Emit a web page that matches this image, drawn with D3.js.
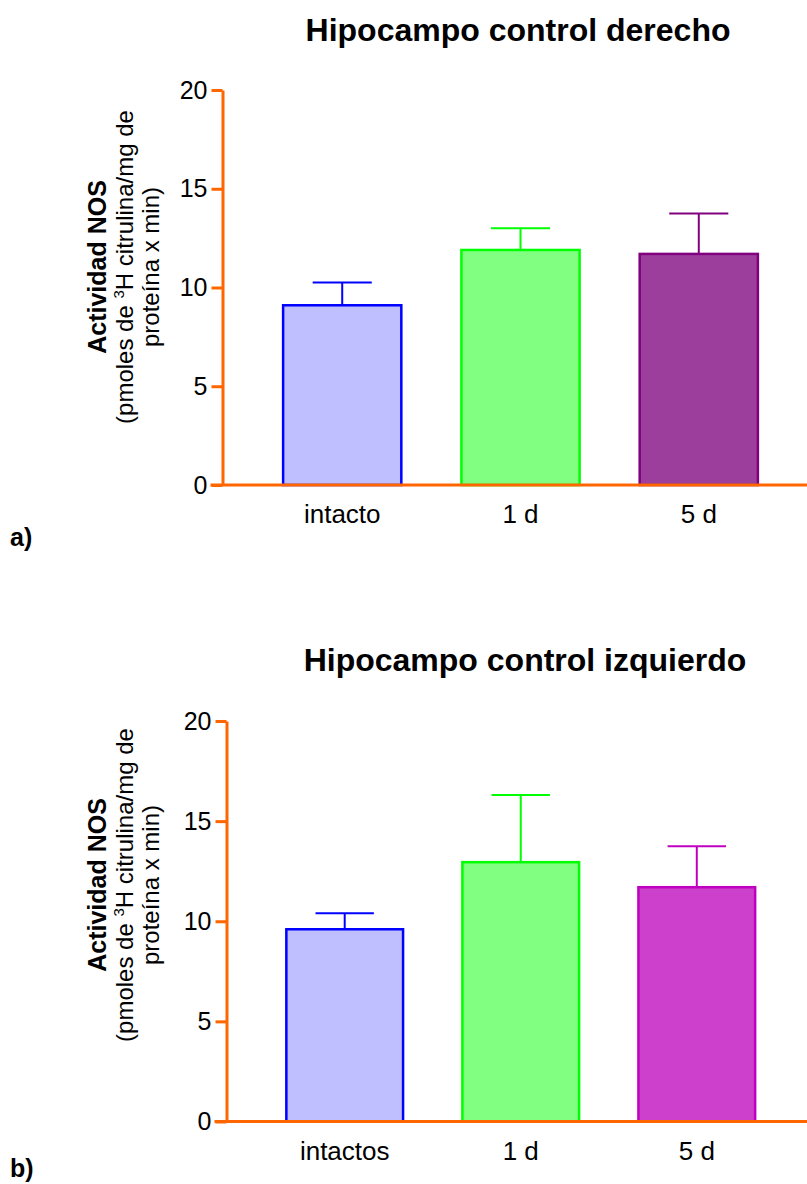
<!DOCTYPE html>
<html>
<head>
<meta charset="utf-8">
<script src="https://cdn.jsdelivr.net/npm/d3@7"></script>
<style>
  body { margin: 0; background: #fff; }
  text { font-family: "Liberation Sans", Arial, sans-serif; fill: #000; }
</style>
</head>
<body>
<svg width="807" height="1184"></svg>
<script>
// data
var categoriesA = ["intacto", "1 d", "5 d"];
var valuesA = [9.1, 11.9, 11.7];
var errorsA = [1.15, 1.1, 2.05];

var categoriesB = ["intactos", "1 d", "5 d"];
var valuesB = [9.6, 12.95, 11.7];
var errorsB = [0.8, 3.35, 2.05];

var yTicks = [0, 5, 10, 15, 20];

var fillsA = ["#bfbfff", "#80ff80", "#9c3f9c"];
var strokesA = ["#0000ff", "#00ff00", "#800080"];
var fillsB = ["#bfbfff", "#80ff80", "#cc40cc"];
var strokesB = ["#0000ff", "#00ff00", "#c000c0"];

var orange = "#ff6600";
var svg = d3.select("svg");

function drawPanel(p) {
    var g = svg.append("g");
    var y = d3.scaleLinear().domain([0, 20]).range([p.y0, p.y1]);
    var x = d3.scaleBand().domain(p.cats).range([p.ax, p.ax + p.span])
        .paddingInner(0.337).paddingOuter(0.34);

    // title
    g.append("text").attr("x", p.titleX).attr("y", p.titleY)
        .attr("text-anchor", "middle").style("font-size", "32px").style("font-weight", "bold")
        .text(p.title);

    // error bars (upper only)
    var rows = p.cats.map(function(c, i) { return {c: c, v: p.vals[i], e: p.errs[i], i: i}; });
    var eb = g.selectAll(".err").data(rows).enter().append("g");
    eb.append("line")
        .attr("x1", function(d) { return x(d.c) + x.bandwidth() / 2; })
        .attr("x2", function(d) { return x(d.c) + x.bandwidth() / 2; })
        .attr("y1", function(d) { return y(d.v); })
        .attr("y2", function(d) { return y(d.v + d.e); })
        .attr("stroke", function(d) { return p.strokes[d.i]; })
        .attr("stroke-width", 2);
    eb.append("line")
        .attr("x1", function(d) { return x(d.c) + x.bandwidth() / 4; })
        .attr("x2", function(d) { return x(d.c) + x.bandwidth() * 3 / 4; })
        .attr("y1", function(d) { return y(d.v + d.e); })
        .attr("y2", function(d) { return y(d.v + d.e); })
        .attr("stroke", function(d) { return p.strokes[d.i]; })
        .attr("stroke-width", 2);

    // bars
    g.selectAll(".bar").data(rows).enter().append("rect")
        .attr("x", function(d) { return x(d.c); })
        .attr("y", function(d) { return y(d.v); })
        .attr("width", x.bandwidth())
        .attr("height", function(d) { return y(0) - y(d.v); })
        .attr("fill", function(d) { return p.fills[d.i]; })
        .attr("stroke", function(d) { return p.strokes[d.i]; })
        .attr("stroke-width", 2.5);

    // y axis
    var yAxis = d3.axisLeft(y).tickValues(yTicks).tickSize(11).tickPadding(4).tickSizeOuter(0);
    var ya = g.append("g").attr("transform", "translate(" + p.ax + ",0)").call(yAxis);
    ya.select(".domain").attr("stroke", orange).attr("stroke-width", 3);
    ya.selectAll(".tick line").attr("stroke", orange).attr("stroke-width", 3);
    ya.selectAll(".tick text").style("font-size", "25px").style("font-family", "Liberation Sans, Arial, sans-serif");

    // x axis
    var xAxis = d3.axisBottom(x).tickSize(0).tickPadding(20);
    var xa = g.append("g").attr("transform", "translate(0," + y(0) + ")").call(xAxis);
    xa.select(".domain").remove();
    xa.selectAll(".tick text").style("font-size", "26px").style("font-family", "Liberation Sans, Arial, sans-serif");
    g.append("line").attr("x1", p.ax - 12).attr("x2", 807)
        .attr("y1", y(0)).attr("y2", y(0))
        .attr("stroke", orange).attr("stroke-width", 3);

    // y label
    var lab = g.append("text").attr("transform", "translate(" + p.labX + "," + p.labY + ") rotate(-90)")
        .attr("text-anchor", "middle");
    lab.append("tspan").attr("x", 0).attr("dy", 0).style("font-size", "25px").style("font-weight", "bold")
        .text("Actividad NOS");
    var l2 = lab.append("tspan").attr("x", 0).attr("dy", 27).style("font-size", "24px");
    l2.append("tspan").text("(pmoles de ");
    l2.append("tspan").attr("dy", -9).style("font-size", "15px").text("3");
    l2.append("tspan").attr("dy", 9).text("H citrulina/mg de");
    lab.append("tspan").attr("x", 0).attr("dy", 26).style("font-size", "24px").text("proteína x min)");

    // panel letter
    g.append("text").attr("x", 10).attr("y", p.letterY)
        .style("font-size", "25px").style("font-weight", "bold").text(p.letter);
}

drawPanel({
    cats: categoriesA, vals: valuesA, errs: errorsA, fills: fillsA, strokes: strokesA,
    y0: 485, y1: 90, ax: 222.5, span: 596,
    title: "Hipocampo control derecho", titleX: 518, titleY: 41,
    labX: 106, labY: 267, letter: "a)", letterY: 546
});

drawPanel({
    cats: categoriesB, vals: valuesB, errs: errorsB, fills: fillsB, strokes: strokesB,
    y0: 1121.5, y1: 721, ax: 226.5, span: 588.5,
    title: "Hipocampo control izquierdo", titleX: 525, titleY: 671,
    labX: 106, labY: 885, letter: "b)", letterY: 1177
});
</script>
</body>
</html>
